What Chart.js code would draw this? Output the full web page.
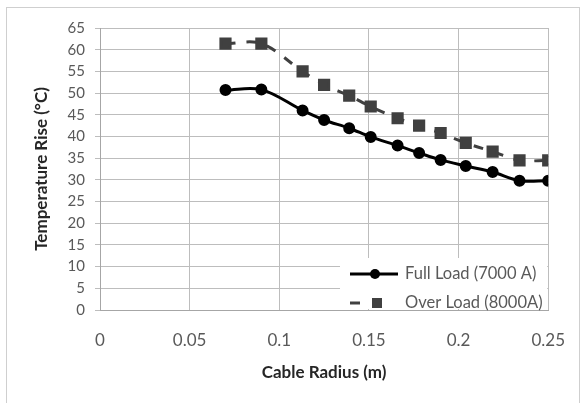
<!DOCTYPE html>
<html><head><meta charset="utf-8">
<script src="https://cdn.jsdelivr.net/npm/chart.js@4/dist/chart.umd.min.js"></script>
<style>
html,body{margin:0;padding:0;background:#fff;}
#wrap{position:relative;width:585px;height:403px;overflow:hidden;}
#frame{position:absolute;left:6px;top:7px;width:574px;height:410px;border:1px solid #cfcfcf;box-sizing:border-box;}
canvas{position:absolute;left:0;top:0;}
</style></head><body>
<div id="wrap"><div id="frame"></div><canvas id="c" width="585" height="403"></canvas></div>
<script>
const radius   = [0.07, 0.09, 0.113, 0.125, 0.139, 0.151, 0.166, 0.178, 0.19, 0.204, 0.219, 0.234, 0.25];
const fullLoad = [50.7, 50.8, 46.0, 43.8, 41.9, 39.9, 37.9, 36.2, 34.6, 33.2, 31.8, 29.8, 29.8];
const overLoad = [61.4, 61.4, 55.0, 51.9, 49.4, 46.9, 44.2, 42.5, 40.8, 38.5, 36.5, 34.5, 34.5];
const seriesNames = ['Full Load (7000 A)', 'Over Load (8000A)'];
const xTitle = 'Cable Radius (m)';
const yTitle = 'Temperature Rise (°C)';

const FONT = 'Lato, "Open Sans", sans-serif';
const toXY = (ys) => radius.map((r, i) => ({x: r, y: ys[i]}));

const legendPlugin = {
  id: 'boxLegend',
  afterDatasetsDraw(chart) {
    const ctx = chart.ctx;
    const ca = chart.chartArea;
    ctx.save();
    ctx.fillStyle = '#ffffff';
    ctx.fillRect(340, 258, ca.right - 1 - 340, ca.bottom - 1 - 258);
    const rows = [274, 303];
    chart.data.datasets.forEach((ds, i) => {
      const y = rows[i];
      ctx.strokeStyle = ds.borderColor;
      ctx.lineWidth = ds.borderWidth;
      ctx.beginPath();
      if (i === 0) { ctx.moveTo(350, y); ctx.lineTo(398, y); }
      else { ctx.moveTo(350, y); ctx.lineTo(360, y); }
      ctx.stroke();
      ctx.fillStyle = ds.pointBackgroundColor;
      if (ds.pointStyle === 'rect') {
        ctx.fillRect(377 - 5, y - 5, 10, 10);
      } else {
        ctx.beginPath(); ctx.arc(375, y, 5, 0, Math.PI * 2); ctx.fill();
      }
      ctx.fillStyle = '#595959';
      ctx.font = '16.5px ' + FONT;
      ctx.textBaseline = 'middle';
      ctx.textAlign = 'left';
      ctx.fillText(ds.label, 405, y);
    });
    ctx.restore();
  }
};

new Chart(document.getElementById('c'), {
  type: 'line',
  data: {
    datasets: [
      { label: seriesNames[0], data: toXY(fullLoad), borderColor: '#000000', backgroundColor: '#000000',
        pointBackgroundColor: '#000000', pointBorderColor: '#000000', borderWidth: 3,
        pointRadius: 4.5, pointStyle: 'circle', tension: 0.35, fill: false },
      { label: seriesNames[1], data: toXY(overLoad), borderColor: '#404040', backgroundColor: '#404040',
        pointBackgroundColor: '#404040', pointBorderColor: '#404040', borderWidth: 3, borderDash: [10, 11],
        pointRadius: 6.5, pointStyle: 'rect', tension: 0.35, fill: false }
    ]
  },
  options: {
    responsive: false, animation: false, devicePixelRatio: 1,
    layout: { padding: { left: 0, right: 34, top: 28, bottom: 0 } },
    plugins: { legend: { display: false }, tooltip: { enabled: false } },
    scales: {
      x: {
        type: 'linear', min: 0, max: 0.25,
        ticks: { stepSize: 0.05, padding: 20, color: '#595959', font: { family: FONT, size: 17 },
          callback: v => String(+v.toFixed(2)) },
        grid: { color: '#bdbdbd', drawTicks: false },
        border: { color: '#a6a6a6' },
        title: { display: true, text: xTitle, color: '#262626', font: { family: FONT, size: 17, weight: 'bold' },
          padding: { top: 0, bottom: 20 } },
        afterFit: s => { s.height = 93; }
      },
      y: {
        min: 0, max: 65,
        ticks: { stepSize: 5, padding: 10, color: '#595959', font: { family: FONT, size: 15 } },
        grid: { color: '#bdbdbd', tickLength: 5 },
        border: { color: '#a6a6a6' },
        title: { display: true, text: yTitle, color: '#262626', font: { family: FONT, size: 17, weight: 'bold' },
          padding: { top: 31, bottom: 0 } },
        afterFit: s => { s.width = 100; }
      }
    }
  },
  plugins: [legendPlugin]
});
</script>
</body></html>
